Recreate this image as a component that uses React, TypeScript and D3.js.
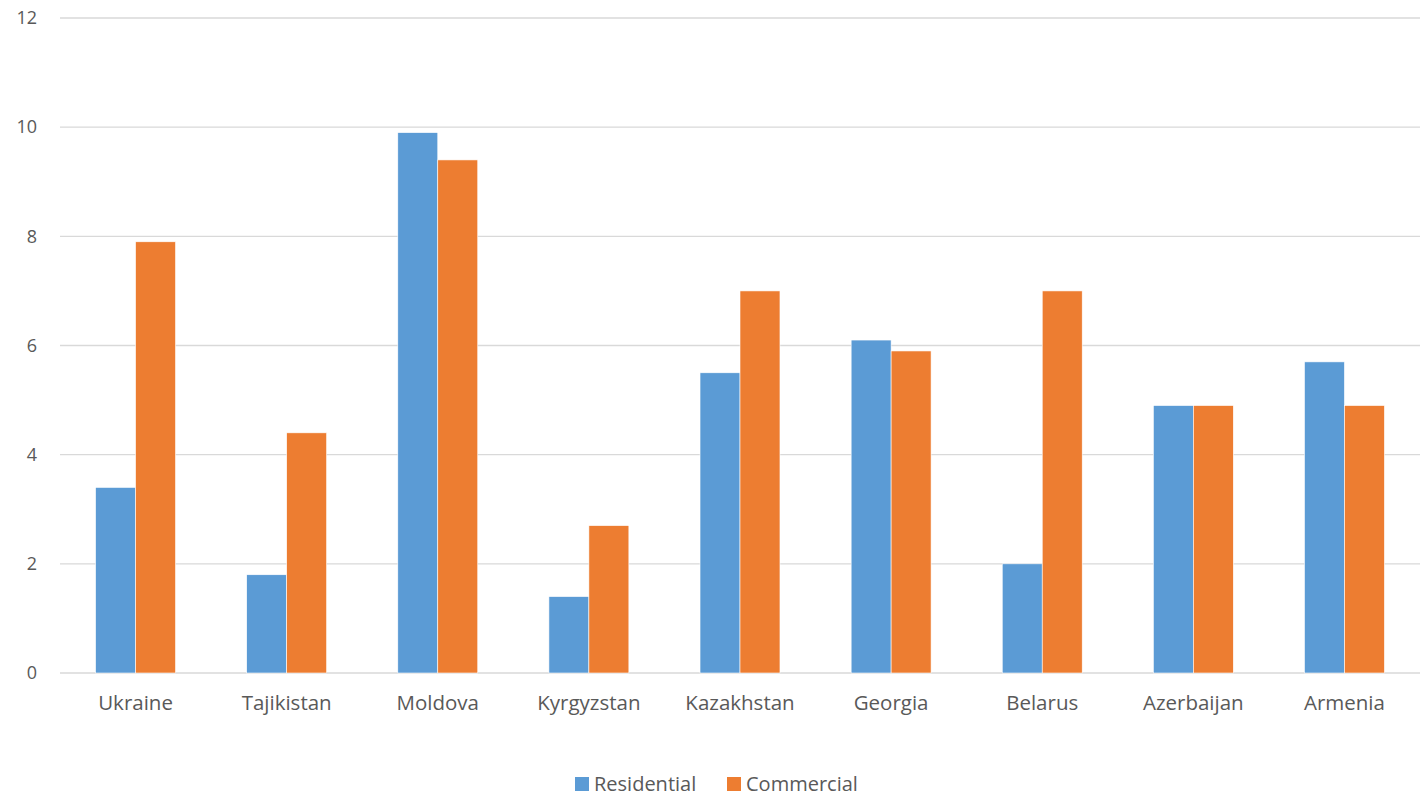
import React from "react";
import * as d3 from "d3";

const countries = ["Ukraine", "Tajikistan", "Moldova", "Kyrgyzstan", "Kazakhstan", "Georgia", "Belarus", "Azerbaijan", "Armenia"];
const residential = [3.4, 1.8, 9.9, 1.4, 5.5, 6.1, 2.0, 4.9, 5.7];
const commercial = [7.9, 4.4, 9.4, 2.7, 7.0, 5.9, 7.0, 4.9, 4.9];
const yTicks = [0, 2, 4, 6, 8, 10, 12];
const seriesNames = ["Residential", "Commercial"];
const seriesColors = ["#5B9BD5", "#ED7D31"];

const W = 1423;
const H = 796;
const left = 60;
const right = 1420;
const top = 18;
const bottom = 673;
const font = "'Open Sans', 'Liberation Sans', sans-serif";
const textColor = "#595959";

export default function App() {
  const x = d3.scaleBand<string>().domain(countries).range([left, right]).paddingInner(0).paddingOuter(0);
  const y = d3.scaleLinear().domain([0, 12]).range([bottom, top]);
  const inner = d3.scaleBand<number>().domain([0, 1]).range([0, x.bandwidth()]).paddingInner(0).paddingOuter(0.89);

  const series = [residential, commercial];

  return (
    <svg width={W} height={H} style={{ position: "absolute", left: 0, top: 0, background: "#fff" }}>
      {yTicks.map((t) => (
        <g key={t}>
          <line x1={left} x2={right} y1={y(t)} y2={y(t)} stroke="#D9D9D9" strokeWidth={1.3} />
          <text x={37} y={y(t)} dy="0.35em" textAnchor="end" fontFamily={font} fontSize={18} fill={textColor}>
            {t}
          </text>
        </g>
      ))}
      {countries.map((c, i) => (
        <g key={c}>
          {series.map((vals, s) => (
            <rect
              key={s}
              x={(x(c) as number) + (inner(s) as number)}
              y={y(vals[i])}
              width={inner.bandwidth()}
              height={y(0) - y(vals[i])}
              fill={seriesColors[s]}
              stroke="#fff"
              strokeWidth={0.6}
            />
          ))}
          <text
            x={(x(c) as number) + x.bandwidth() / 2}
            y={703}
            dy="0.35em"
            textAnchor="middle"
            fontFamily={font}
            fontSize={20.5}
            fill={textColor}
          >
            {c}
          </text>
        </g>
      ))}
      {seriesNames.map((n, s) => {
        const lx = s === 0 ? 575 : 727;
        return (
          <g key={n}>
            <rect x={lx} y={777} width={14} height={14} fill={seriesColors[s]} />
            <text x={lx + 19} y={791} fontFamily={font} fontSize={20} fill={textColor}>
              {n}
            </text>
          </g>
        );
      })}
    </svg>
  );
}
